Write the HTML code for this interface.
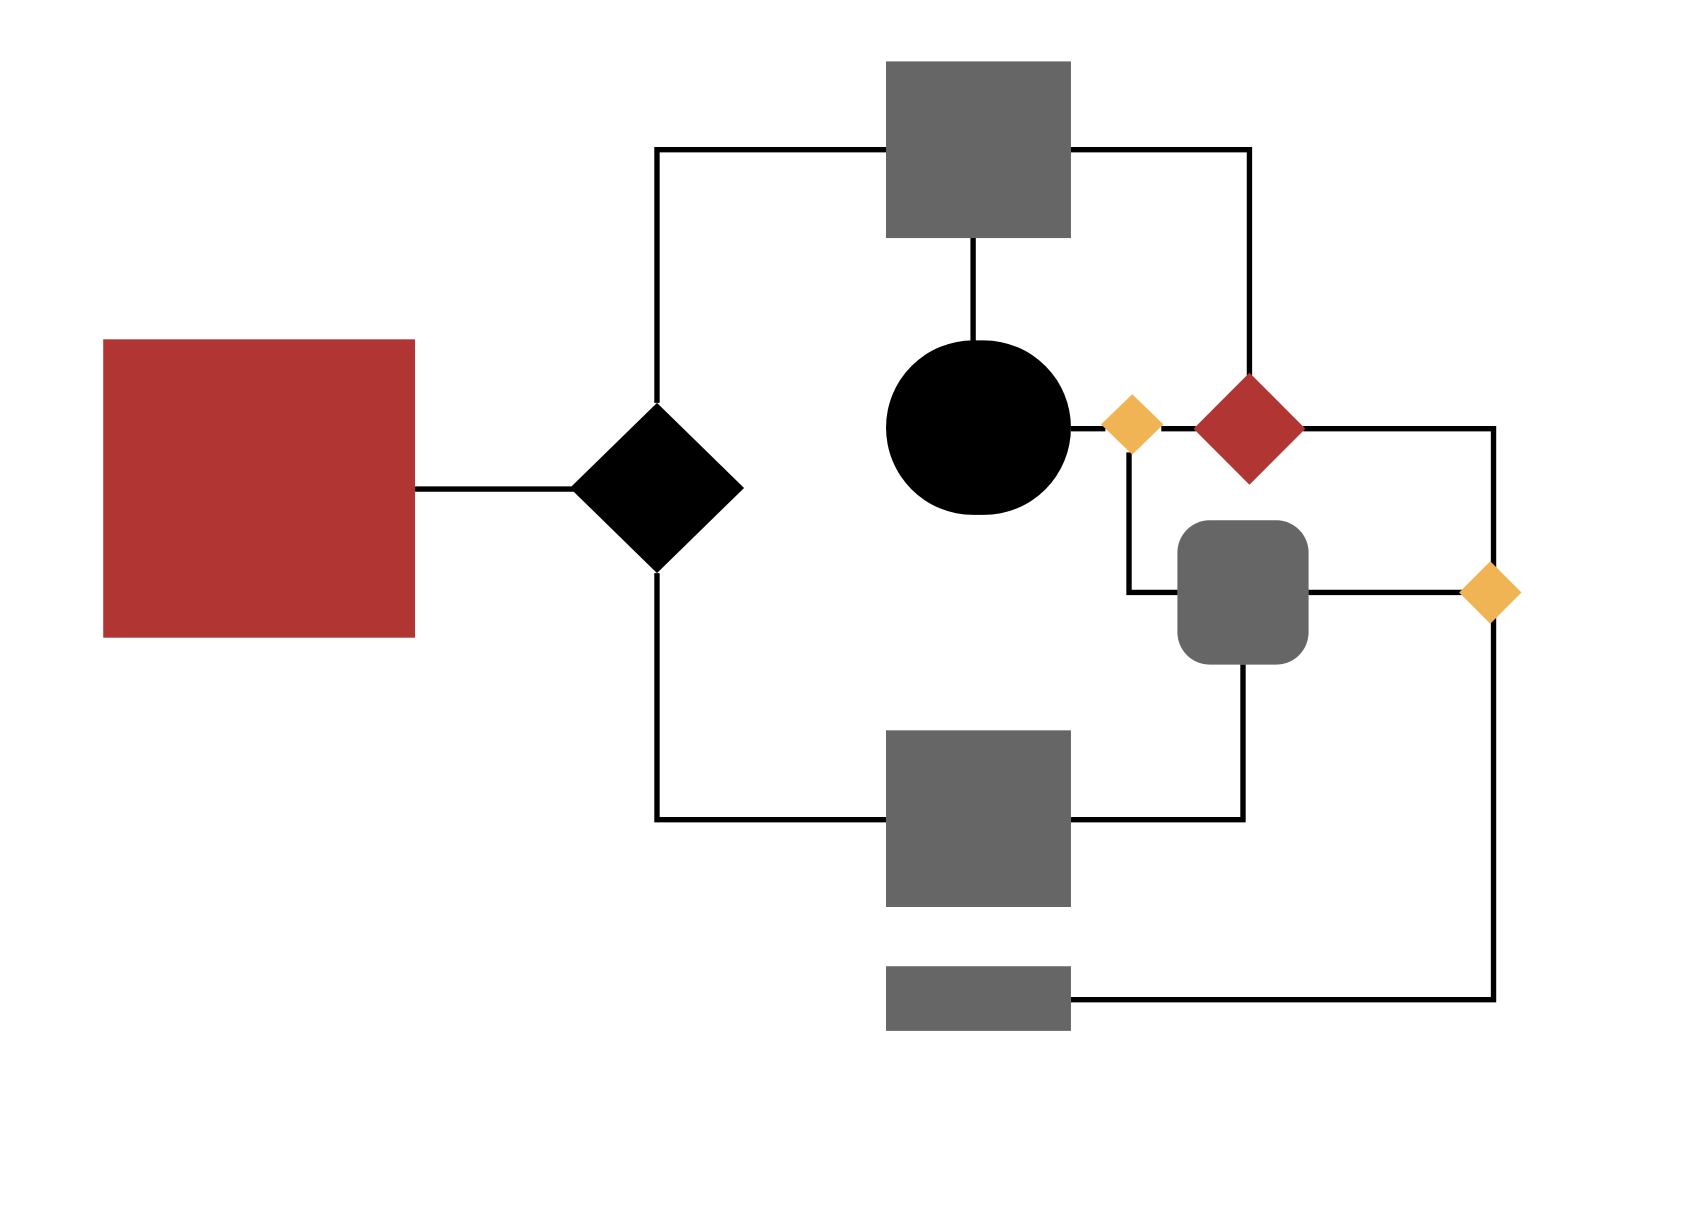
<!DOCTYPE html>
<html><head><meta charset="utf-8"><style>
html,body{margin:0;padding:0;background:#fff;width:1686px;height:1228px;overflow:hidden}
svg{display:block}
</style></head><body>
<svg width="1686" height="1228" viewBox="0 0 1568 1140" preserveAspectRatio="none" xmlns="http://www.w3.org/2000/svg">
<g stroke="#000" stroke-width="5" fill="none">
<line x1="386" y1="454" x2="535" y2="454"/>
<polyline points="611,374 611,139 824,139"/>
<polyline points="611,532 611,761 824,761"/>
<polyline points="996,139 1162,139 1162,352"/>
<line x1="905" y1="221" x2="905" y2="318"/>
<line x1="996" y1="398" x2="1028" y2="398"/>
<line x1="1080" y1="398" x2="1112" y2="398"/>
<polyline points="1212,398 1389,398 1389,928 996,928"/>
<polyline points="1050,420 1050,550 1095,550"/>
<line x1="1217" y1="550" x2="1360" y2="550"/>
<polyline points="1156,617 1156,761 996,761"/>
</g>
<rect x="96" y="315" width="290" height="277" fill="#b03533"/>
<polygon points="611,374 692,453 611,532 530,453" fill="#000"/>
<rect x="824" y="57" width="172" height="164" fill="#666"/>
<rect x="824" y="316" width="172" height="162" rx="81" ry="81" fill="#000"/>
<polygon points="1053,366 1082,394 1053,422 1024,394" fill="#f0b455"/>
<polygon points="1162,346 1214,398 1162,450 1110,398" fill="#b03533"/>
<polygon points="1386,521 1415,550 1386,579 1357,550" fill="#f0b455"/>
<rect x="1095" y="483" width="122" height="134" rx="30" ry="30" fill="#666"/>
<rect x="824" y="678" width="172" height="164" fill="#666"/>
<rect x="824" y="897" width="172" height="60" fill="#666"/>
</svg>
</body></html>
